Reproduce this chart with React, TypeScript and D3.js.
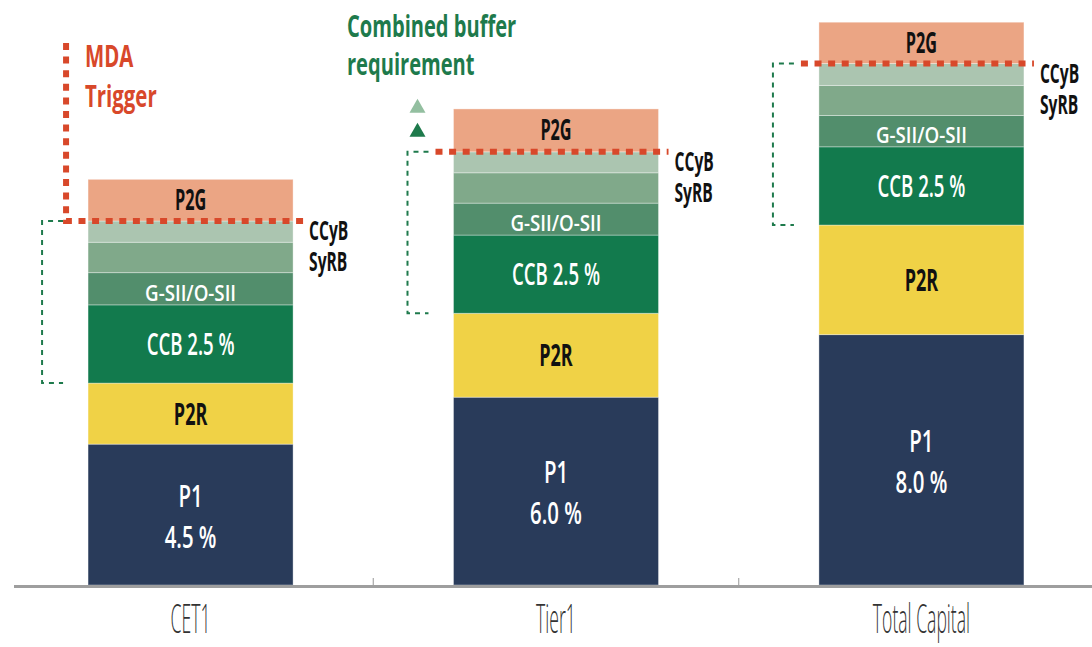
import React from 'react';
import * as d3 from 'd3';

// capital requirement stack, in % of RWA
const categories = ['CET1', 'Tier1', 'Total Capital'];
const layers = ['P1', 'P2R', 'CCB', 'GSII', 'SyRB', 'CCyB', 'P2G'];
const p1 = [4.5, 6.0, 8.0];
const p2r = [1.95, 2.68, 3.5];
const ccb = [2.5, 2.5, 2.5];
const gsii = [1.03, 1.02, 1.0];
const syrb = [0.97, 0.97, 0.96];
const ccyb = [0.68, 0.67, 0.7];
const p2g = [1.33, 1.37, 1.32];
const p1Labels = ['4.5 %', '6.0 %', '8.0 %'];
const sideLabels = ['CCyB', 'SyRB'];

const W = 1092;
const H = 647;
const FONT = "'Open Sans', 'Noto Sans', sans-serif";

const colors: Record<string, string> = {
  P1: '#293b5a',
  P2R: '#f0d246',
  CCB: '#127a4d',
  GSII: '#528e6c',
  SyRB: '#80a98a',
  CCyB: '#abc5b0',
  P2G: '#eba584',
};

const red = '#d8482a';
const green = '#1e7a4c';

// squeezed text, the source uses a condensed face
function Txt(props: {
  x: number; y: number; lines: string[]; size: number; weight: number;
  fill: string; sx: number; anchor?: string; lh?: number;
}) {
  const { x, y, lines, size, weight, fill, sx, anchor = 'middle', lh = 0 } = props;
  return (
    <text
      transform={`translate(${x},${y}) scale(${sx},1)`}
      fontFamily={FONT}
      fontSize={size}
      fontWeight={weight}
      fill={fill}
      textAnchor={anchor}
    >
      {lines.map((t, k) => (
        <tspan key={k} x={0} dy={k === 0 ? 0 : lh}>{t}</tspan>
      ))}
    </text>
  );
}

export default function App() {
  const rows = categories.map((c, i) => ({
    category: c,
    P1: p1[i], P2R: p2r[i], CCB: ccb[i], GSII: gsii[i],
    SyRB: syrb[i], CCyB: ccyb[i], P2G: p2g[i],
  }));

  const series = d3.stack<any>().keys(layers)(rows);

  const x = d3.scaleBand()
    .domain(categories)
    .range([0, 1112])
    .paddingInner(0.439)
    .paddingOuter(0.241);

  const y = d3.scaleLinear().domain([0, 18]).range([585, 585 - 18 * 31.3]);

  const bw = x.bandwidth();
  const seg = (key: string, i: number) => series[layers.indexOf(key)][i];

  // band boundaries for the small ticks
  const boundaries = categories.slice(1).map(c => x(c)! - (x.step() - bw) / 2);

  return (
    <svg width={W} height={H} style={{ position: 'absolute', left: 0, top: 0, background: '#fff' }}>
      {/* stacked bars */}
      {series.map(s => (
        <g key={s.key}>
          {s.map((d, i) => (
            <rect
              key={i}
              x={x(categories[i])!}
              y={y(d[1])}
              width={bw}
              height={y(d[0]) - y(d[1])}
              fill={colors[s.key]}
              stroke="rgba(255,255,255,0.35)"
              strokeWidth={1}
            />
          ))}
        </g>
      ))}

      {/* labels inside bars */}
      {categories.map((c, i) => {
        const cx = x(c)! + bw / 2;
        const mid = (key: string) => (y(seg(key, i)[0]) + y(seg(key, i)[1])) / 2;
        return (
          <g key={c}>
            <Txt x={cx} y={mid('P1') - 8} lines={['P1', p1Labels[i]]} lh={41} size={30} weight={600} fill="#fff" sx={0.68} />
            <Txt x={cx} y={mid('P2R') + 11} lines={['P2R']} size={31} weight={700} fill="#111" sx={0.58} />
            <Txt x={cx} y={mid('CCB') + 11} lines={['CCB 2.5 %']} size={31} weight={600} fill="#fff" sx={0.6} />
            <Txt x={cx} y={y(seg('GSII', i)[0]) - 4} lines={['G-SII/O-SII']} size={22} weight={600} fill="#fff" sx={0.85} />
            <Txt x={cx} y={mid('P2G') + 10} lines={['P2G']} size={29} weight={700} fill="#111" sx={0.56} />
          </g>
        );
      })}

      {/* combined buffer brackets (CCB up to CCyB) */}
      {categories.map((c, i) => {
        const x0 = x(c)!;
        const top = y(seg('CCyB', i)[1]);
        const bottom = y(seg('CCB', i)[0]);
        return (
          <path
            key={c}
            d={`M${x0 - 25},${top} H${x0 - 46} V${bottom} H${x0 - 25}`}
            fill="none"
            stroke={green}
            strokeWidth={2}
            strokeDasharray="5 5"
          />
        );
      })}

      {/* MDA trigger lines */}
      {categories.map((c, i) => {
        const x0 = x(c)!;
        const ly = y(seg('CCyB', i)[1]);
        const d = i === 0
          ? `M${x0 - 22},43 V${ly} H${x0 + bw + 10}`
          : `M${x0 - 18},${ly} H${x0 + bw + 10}`;
        return (
          <g key={c}>
            <path d={d} fill="none" stroke={red} strokeWidth={6} strokeDasharray="7 6.6" />
            <Txt x={x0 + bw + 16} y={ly + 19} lines={sideLabels} lh={31} size={26} weight={700}
              fill="#111" sx={0.6} anchor="start" />
          </g>
        );
      })}

      {/* buffer triangles next to Tier1 */}
      {(() => {
        const x0 = x('Tier1')!;
        const ly = y(seg('CCyB', 1)[1]);
        const tri = (cy: number) => `M${x0 - 44},${cy + 7} L${x0 - 36},${cy - 7} L${x0 - 28},${cy + 7} Z`;
        return (
          <g>
            <path d={tri(ly - 46)} fill="#93bfa0" />
            <path d={tri(ly - 22)} fill={green} />
          </g>
        );
      })()}

      {/* annotations */}
      <Txt x={85} y={67} lines={['MDA', 'Trigger']} lh={40} size={30} weight={700} fill={red} sx={0.68} anchor="start" />
      <Txt x={347} y={37} lines={['Combined buffer', 'requirement']} lh={38} size={30} weight={700} fill={green} sx={0.67} anchor="start" />

      {/* category axis */}
      <line x1={14} x2={W} y1={586.5} y2={586.5} stroke="#9e9e9e" strokeWidth={3} />
      {boundaries.map((b, i) => (
        <line key={i} x1={b} x2={b} y1={578} y2={585} stroke="#a8a8a8" strokeWidth={1.2} />
      ))}
      {categories.map(c => (
        <Txt key={c} x={x(c)! + bw / 2} y={633} lines={[c]} size={40} weight={300} fill="#333" sx={0.44} />
      ))}
    </svg>
  );
}
